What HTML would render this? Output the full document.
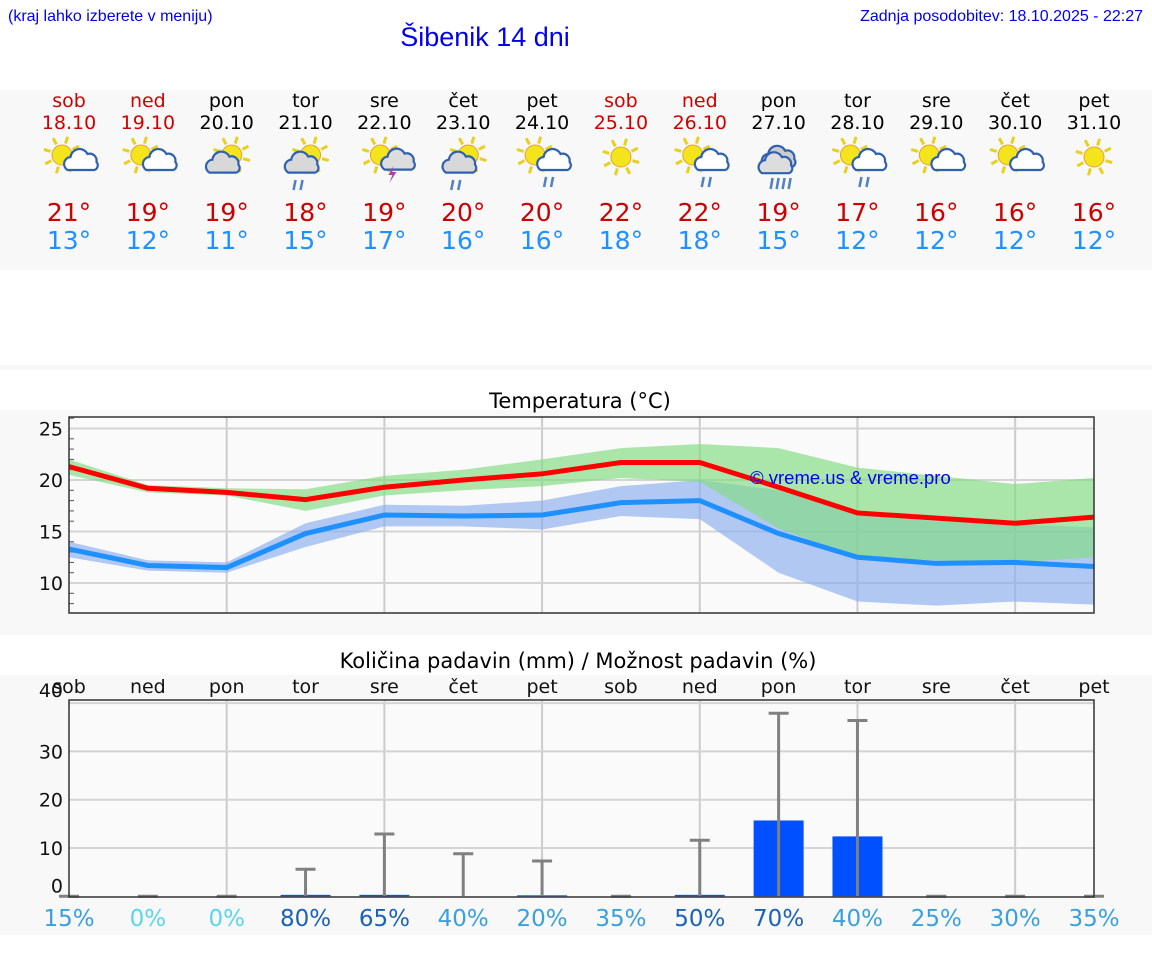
<!DOCTYPE html>
<html><head><meta charset="utf-8">
<style>
body{margin:0;width:1152px;height:975px;background:#fff;overflow:hidden;font-family:"DejaVu Sans","Liberation Sans",sans-serif;}
svg{position:absolute;left:0;top:0}
</style></head>
<body>
<svg id="s" width="1152" height="975" xmlns="http://www.w3.org/2000/svg">
<text x="8" y="21" font-family="Liberation Sans,sans-serif" font-size="16" fill="#0000ee">(kraj lahko izberete v meniju)</text>
<text x="1143" y="21" text-anchor="end" font-family="Liberation Sans,sans-serif" font-size="16" fill="#0000ee">Zadnja posodobitev: 18.10.2025 - 22:27</text>
<text x="485" y="46" text-anchor="middle" font-family="Liberation Sans,sans-serif" font-size="27" fill="#0000ee">Šibenik 14 dni</text>
<rect x="0" y="90" width="1152" height="180" fill="#f8f8f8"/>
<rect x="0" y="365" width="1152" height="5" fill="#f8f8f8"/>
<rect x="0" y="410" width="1152" height="225" fill="#f8f8f8"/>
<rect x="0" y="675" width="1152" height="260" fill="#f8f8f8"/>
<text x="580" y="408" text-anchor="middle" font-size="21" fill="#000">Temperatura (°C)</text>
<text x="578" y="668" text-anchor="middle" font-size="21" fill="#000">Količina padavin (mm) / Možnost padavin (%)</text>
<g id="days"></g>
<g id="temp"></g>
<g id="prec"></g>
</svg>
<script>
const days=["sob","ned","pon","tor","sre","čet","pet","sob","ned","pon","tor","sre","čet","pet"];
const dates=["18.10","19.10","20.10","21.10","22.10","23.10","24.10","25.10","26.10","27.10","28.10","29.10","30.10","31.10"];
const weekend=[1,1,0,0,0,0,0,1,1,0,0,0,0,0];
const maxT=[21,19,19,18,19,20,20,22,22,19,17,16,16,16];
const minT=[13,12,11,15,17,16,16,18,18,15,12,12,12,12];
const icons=["sc","sc","pc","pcr","st","pcr","scr","s","scr","r","scr","sc","sc","s"];
const maxLine=[21.3,19.2,18.8,18.1,19.3,20.0,20.6,21.7,21.7,19.3,16.8,16.3,15.8,16.4];
const maxHi=[22.0,19.5,19.2,19.1,20.4,21.0,22.0,23.1,23.5,23.1,21.2,20.4,19.6,20.2];
const maxLo=[20.5,18.8,18.5,17.0,18.5,19.0,19.4,20.2,19.8,15.3,12.5,12.2,12.0,12.5];
const minLine=[13.3,11.7,11.5,14.8,16.6,16.5,16.6,17.8,18.0,14.8,12.5,11.9,12.0,11.6];
const minHi=[14.0,12.2,12.0,15.8,17.6,17.5,18.0,19.4,20.0,19.0,16.6,16.0,15.7,15.4];
const minLo=[12.5,11.2,11.0,13.5,15.5,15.5,15.2,16.5,16.2,11.0,8.2,7.8,8.2,7.9];
const tempTicks=[10,15,20,25];
const precip=[0,0,0,0.3,0.3,0,0.2,0,0.3,15.7,12.4,0,0,0];
const precipErr=[0,0,0,5.6,12.9,8.8,7.3,0,11.6,37.9,36.4,0,0,0];
const chance=[15,0,0,80,65,40,20,35,50,70,40,25,30,35];
const precTicks=[0,10,20,30,40];
const NS="http://www.w3.org/2000/svg";
function mk(t,a,p){const e=document.createElementNS(NS,t);for(const k in a)e.setAttribute(k,a[k]);p.appendChild(e);return e;}
const X=i=>69+i*(1094-69)/13;
const dg=document.getElementById('days');
function sun(g,cx,cy,r){for(let k=0;k<8;k++){const a=k*Math.PI/4+0.3;mk('line',{x1:cx+Math.cos(a)*(r+2),y1:cy+Math.sin(a)*(r+2),x2:cx+Math.cos(a)*(r+9),y2:cy+Math.sin(a)*(r+9),stroke:'#e8d020','stroke-width':3},g);}mk('circle',{cx,cy,r,fill:'#f4e41c',stroke:'#e8a030','stroke-width':1},g);}
function cloud(g,cx,cy,s,fill){mk('path',{d:`M${cx-14*s},${cy+8*s} a7 7 0 0 1 3,-13 a9 9 0 0 1 17,-3 a7 7 0 0 1 9,8 a5 5 0 0 1 -2,8 z`,fill,stroke:'#3060b0','stroke-width':2.2},g);}
function rain(g,cx,cy){for(const d of [-4,3]){mk('line',{x1:cx+d+2,y1:cy,x2:cx+d,y2:cy+10,stroke:'#5080c0','stroke-width':2.5},g);}}
days.forEach((d,i)=>{
  const x=X(i);const g=mk('g',{},dg);
  
  
  const c=weekend[i]?'#d00000':'#000';
  const t1=mk('text',{x,y:107,'text-anchor':'middle','font-size':19,fill:c},g);t1.textContent=d;
  const t2=mk('text',{x,y:129,'text-anchor':'middle','font-size':19,fill:c},g);t2.textContent=dates[i];
  const ic=mk('g',{},g);
  
  
  const k=icons[i];
  if(k==='s'){sun(ic,x,157,10);}
  else if(k==='sc'||k==='scr'){sun(ic,x-7,155,10);cloud(ic,x+9,164,0.75,'#fff');if(k==='scr')rain(ic,x+6,177);}
  else if(k==='st'){sun(ic,x-4,155,10);cloud(ic,x+10,164,0.7,'#ddd');mk('path',{d:`M${x+9},166 l-5,9 h4 l-3,8 l7,-11 h-4 z`,fill:'#b040b0'},ic);}
  else if(k==='r'){cloud(ic,x+2,158,1.1,'#ccc');cloud(ic,x-4,166,0.9,'#ddd');for(const d of [-8,-2,4,10])mk('line',{x1:x+d+2,y1:178,x2:x+d,y2:189,stroke:'#5080c0','stroke-width':2.5},ic);}
  else{sun(ic,x+5,155,10);cloud(ic,x-4,165,0.95,'#d8d8d8');if(k==='pcr')rain(ic,x-8,180);}
  const t3=mk('text',{x,y:221,'text-anchor':'middle','font-size':25,fill:'#cc0000'},g);t3.textContent=maxT[i]+'°';
  const t4=mk('text',{x,y:249,'text-anchor':'middle','font-size':25,fill:'#1e90ff'},g);t4.textContent=minT[i]+'°';
});
const tg=document.getElementById('temp');
const TY=v=>480-(v-20)*10.3;
mk('rect',{x:69,y:417,width:1025,height:196,fill:'#fafafa'},tg);
for(let i=2;i<13;i+=2)mk('line',{x1:X(i),x2:X(i),y1:417,y2:613,stroke:'#ccc','stroke-width':2},tg);
tempTicks.forEach(v=>{mk('line',{x1:69,x2:1094,y1:TY(v),y2:TY(v),stroke:'#d4d4d4','stroke-width':2},tg);const t=mk('text',{x:63,y:TY(v)+7,'text-anchor':'end','font-size':19,fill:'#111'},tg);t.textContent=v;});
for(let v=8;v<=26;v++){if(v%5)mk('line',{x1:69,x2:74,y1:TY(v),y2:TY(v),stroke:'#555','stroke-width':1},tg);}
function band(hi,lo,fill,name){let d='M'+hi.map((v,i)=>X(i)+','+TY(v)).join('L')+'L'+lo.map((v,i)=>X(i)+','+TY(v)).reverse().join('L')+'Z';const p=mk('path',{d,fill,'fill-opacity':0.65},tg);}
band(minHi,minLo,'#8aaef0','min-temp-range');
band(maxHi,maxLo,'#7fdc7f','max-temp-range');
function line(a,c,name){const p=mk('polyline',{points:a.map((v,i)=>X(i)+','+TY(v)).join(' '),fill:'none',stroke:c,'stroke-width':5},tg);}
line(minLine,'#1e90ff','min-temp-line');
line(maxLine,'#ff0000','max-temp-line');
mk('rect',{x:69,y:417,width:1025,height:196,fill:'none',stroke:'#333','stroke-width':1.5},tg);
const wm=mk('text',{x:750,y:484,'font-family':'Liberation Sans,sans-serif','font-size':18.5,fill:'#0000ee'},tg);wm.textContent='© vreme.us & vreme.pro';


const pg=document.getElementById('prec');
const PY=v=>896.3-v*4.83;
mk('rect',{x:69,y:700,width:1025,height:197,fill:'#fafafa'},pg);
for(let i=2;i<13;i+=2)mk('line',{x1:X(i),x2:X(i),y1:700,y2:897,stroke:'#ccc','stroke-width':2},pg);
precTicks.forEach(v=>{if(v>0)mk('line',{x1:69,x2:1094,y1:PY(v),y2:PY(v),stroke:'#d4d4d4','stroke-width':2},pg);const t=mk('text',{x:63,y:(v===0?PY(v)-4:(v===40?PY(v)-6:PY(v)+7)),'text-anchor':'end','font-size':19,fill:'#111'},pg);t.textContent=v;});
days.forEach((d,i)=>{const t=mk('text',{x:X(i),y:693,'text-anchor':'middle','font-size':19,fill:'#111'},pg);t.textContent=d;});
precip.forEach((v,i)=>{
  if(v>0){const r=mk('rect',{x:X(i)-25,y:PY(v),width:50,height:896.3-PY(v),fill:'#0050ff'},pg);
  
  }
  const e=precipErr[i];
  mk('line',{x1:X(i),x2:X(i),y1:896,y2:PY(e),stroke:'#808080','stroke-width':3},pg);
  mk('line',{x1:X(i)-10,x2:X(i)+10,y1:PY(e),y2:PY(e),stroke:'#808080','stroke-width':3},pg);
});
mk('rect',{x:69,y:700,width:1025,height:197,fill:'none',stroke:'#333','stroke-width':1.5},pg);
chance.forEach((c,i)=>{const col=c===0?'#5ad6ea':(c>=50?'#1a62b8':'#3aa0dc');const t=mk('text',{x:X(i),y:926,'text-anchor':'middle','font-size':23,fill:col},pg);t.textContent=c+'%';

});
</script>
</body></html>
